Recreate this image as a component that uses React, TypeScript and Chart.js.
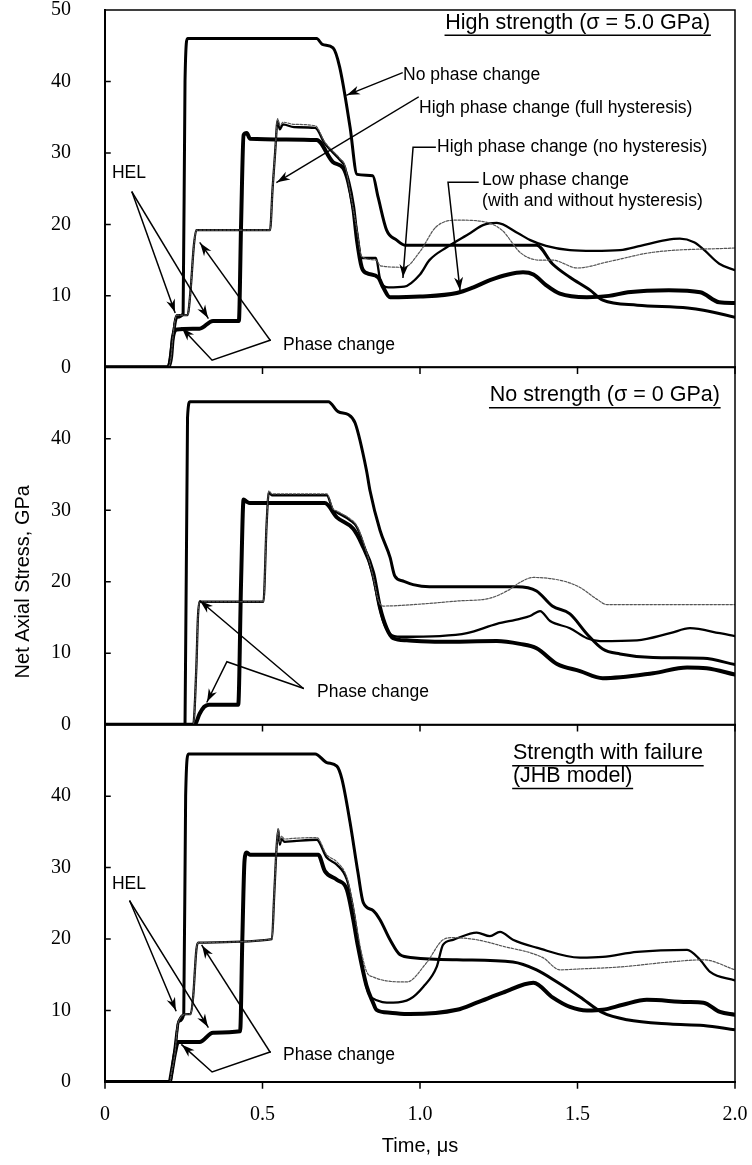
import React, { useEffect, useRef } from 'react';
import { Chart, registerables } from 'chart.js';

Chart.register(...registerables);

const SANS = '"Liberation Sans", Arial, sans-serif';
const SERIF = '"Liberation Serif", "Times New Roman", serif';

// ---------- axes ----------
const X_TICKS = [0, 0.5, 1.0, 1.5, 2.0];
const X_TICK_LABELS = ['0', '0.5', '1.0', '1.5', '2.0'];
const Y_TICKS = [0, 10, 20, 30, 40, 50];

const SERIES_NAMES = [
  'No phase change',
  'High phase change (full hysteresis)',
  'High phase change (no hysteresis)',
  'Low phase change (with and without hysteresis)',
];

// ---------- top panel: High strength (5.0 GPa) ----------
const topNoPhaseT = [0, 0.2, 0.215, 0.228, 0.248, 0.254, 0.262, 0.672, 0.69, 0.724, 0.745, 0.778, 0.8, 0.85, 0.867, 0.894, 0.926, 0.952, 1.37, 1.42, 1.476, 1.54, 1.58, 1.69, 1.85, 1.9, 2.0];
const topNoPhaseV = [0, 0, 4, 7, 7.5, 40, 46, 46, 45.2, 44.7, 42, 33.6, 27, 26.8, 23.8, 19.2, 17.8, 17.1, 17.1, 14.5, 12.6, 10.8, 9.4, 8.7, 8.3, 8.0, 7.0];

const topFullT = [0, 0.2, 0.21, 0.215, 0.222, 0.228, 0.262, 0.272, 0.282, 0.29, 0.524, 0.532, 0.54, 0.548, 0.555, 0.565, 0.6, 0.667, 0.698, 0.746, 0.762, 0.778, 0.8, 0.815, 0.86, 0.875, 0.9, 0.95, 1.0, 1.03, 1.085, 1.16, 1.2, 1.244, 1.31, 1.35, 1.4, 1.476, 1.55, 1.635, 1.7, 1.78, 1.825, 1.87, 1.9, 1.95, 2.0];
const topFullV = [0, 0, 1.5, 4, 6.5, 7.3, 7.3, 11, 17, 19.2, 19.2, 25, 30, 34.5, 33.3, 34, 33.6, 33.5, 31.3, 29, 28, 24.4, 19, 15.3, 15.3, 12, 11.2, 11.3, 13, 15, 16.8, 18.8, 19.9, 20.2, 18.8, 17.8, 17, 16.4, 16.3, 16.4, 17, 17.8, 18.0, 17.5, 16.5, 14.5, 13.6];

const topNoHystT = [0, 0.2, 0.21, 0.215, 0.222, 0.228, 0.262, 0.272, 0.282, 0.29, 0.524, 0.532, 0.54, 0.548, 0.555, 0.565, 0.6, 0.667, 0.698, 0.746, 0.762, 0.778, 0.8, 0.815, 0.86, 0.875, 0.95, 1.0, 1.05, 1.117, 1.2, 1.26, 1.32, 1.38, 1.42, 1.5, 1.6, 1.74, 2.0];
const topNoHystV = [0, 0, 1.5, 4, 6.5, 7.3, 7.3, 11, 17, 19.2, 19.2, 25, 30, 34.8, 33.8, 34.3, 34, 33.8, 31.5, 29.2, 28.2, 24.6, 19.2, 15.5, 15.0, 14.2, 14, 16.2, 19.6, 20.6, 20.4, 19.2, 16, 15.0, 15.0, 13.9, 14.8, 16.1, 16.7];

const topLowT = [0, 0.2, 0.21, 0.215, 0.228, 0.3, 0.343, 0.425, 0.432, 0.44, 0.45, 0.46, 0.672, 0.724, 0.756, 0.772, 0.788, 0.8, 0.815, 0.83, 0.867, 0.883, 0.905, 1.0, 1.117, 1.17, 1.222, 1.28, 1.327, 1.36, 1.4, 1.444, 1.53, 1.6, 1.66, 1.79, 1.89, 1.95, 2.0];
const topLowV = [0, 0, 1.5, 4, 5.3, 5.4, 6.5, 6.5, 20, 32.5, 32.8, 32, 31.8, 28.7, 27.9, 26, 22.4, 17.8, 14, 13.2, 12.6, 11.2, 9.8, 9.9, 10.4, 11.2, 12.2, 13, 13.3, 13, 11.5, 10.3, 9.8, 10.0, 10.5, 10.8, 10.5, 9.1, 9.0];

// ---------- middle panel: No strength ----------
const midNoPhaseT = [0, 0.254, 0.262, 0.27, 0.709, 0.74, 0.772, 0.794, 0.83, 0.841, 0.873, 0.905, 0.92, 0.946, 0.978, 1.03, 1.307, 1.37, 1.42, 1.476, 1.53, 1.58, 1.635, 1.74, 1.9, 2.0];
const midNoPhaseV = [0, 0, 43, 45.2, 45.2, 43.8, 43.4, 42.2, 35.6, 32.8, 27.2, 23.4, 20.8, 20.1, 19.6, 19.3, 19.3, 18.7, 16.6, 15.5, 12.7, 10.6, 9.9, 9.4, 9.3, 8.4];

const midFullT = [0, 0.28, 0.29, 0.295, 0.3, 0.503, 0.513, 0.52, 0.53, 0.704, 0.724, 0.736, 0.778, 0.8, 0.83, 0.851, 0.867, 0.883, 0.905, 0.937, 1.063, 1.149, 1.244, 1.317, 1.349, 1.381, 1.413, 1.476, 1.53, 1.571, 1.689, 1.794, 1.857, 1.952, 2.0];
const midFullV = [0, 0, 8, 15, 17.2, 17.2, 28, 32.5, 32.1, 32.1, 30, 29.7, 28.6, 27.6, 24, 20.6, 17.3, 14.5, 12.7, 12.3, 12.4, 12.8, 14.1, 14.8, 15.2, 15.9, 14.5, 13.5, 12.1, 11.7, 11.8, 12.8, 13.5, 12.8, 12.4];

const midNoHystT = [0, 0.28, 0.29, 0.295, 0.3, 0.503, 0.513, 0.52, 0.53, 0.704, 0.724, 0.736, 0.778, 0.8, 0.83, 0.851, 0.867, 0.883, 1.01, 1.117, 1.222, 1.28, 1.317, 1.36, 1.455, 1.508, 1.56, 1.594, 2.0];
const midNoHystV = [0, 0, 8, 15, 17.2, 17.2, 28, 32.7, 32.3, 32.3, 30.2, 29.9, 28.8, 27.8, 24.2, 20.8, 17.5, 16.6, 16.9, 17.3, 17.7, 18.8, 19.9, 20.6, 20.1, 19.2, 17.6, 16.8, 16.8];

const midLowT = [0, 0.285, 0.3, 0.315, 0.33, 0.423, 0.432, 0.44, 0.45, 0.46, 0.698, 0.736, 0.788, 0.815, 0.851, 0.873, 0.894, 0.915, 0.958, 1.063, 1.244, 1.317, 1.37, 1.435, 1.508, 1.58, 1.74, 1.848, 1.91, 2.0];
const midLowV = [0, 0, 1.5, 2.5, 2.8, 2.8, 20, 31.5, 31.2, 31.0, 31.0, 29, 27.4, 25.3, 21.3, 16.4, 13.5, 12.1, 11.8, 11.6, 11.7, 11.3, 10.7, 8.5, 7.5, 6.5, 7.2, 8.0, 7.9, 7.0];

// ---------- bottom panel: Strength with failure (JHB) ----------
const botNoPhaseT = [0, 0.205, 0.22, 0.235, 0.25, 0.256, 0.265, 0.667, 0.704, 0.736, 0.752, 0.778, 0.803, 0.82, 0.851, 0.873, 0.905, 0.937, 0.978, 1.117, 1.295, 1.37, 1.435, 1.508, 1.58, 1.657, 1.794, 1.9, 2.0];
const botNoPhaseV = [0, 0, 4, 8.5, 9.5, 40, 45.9, 45.9, 44.7, 44.2, 42.4, 36.3, 29.3, 25.1, 24, 22.7, 19.9, 17.8, 17.4, 17.1, 16.8, 15.7, 14.0, 11.9, 9.7, 8.7, 8.1, 7.9, 7.3];

const botFullT = [0, 0.205, 0.212, 0.222, 0.232, 0.26, 0.272, 0.28, 0.29, 0.296, 0.53, 0.537, 0.545, 0.55, 0.555, 0.56, 0.57, 0.6, 0.672, 0.704, 0.736, 0.768, 0.787, 0.81, 0.83, 0.846, 0.915, 0.968, 1.01, 1.053, 1.073, 1.105, 1.18, 1.222, 1.254, 1.295, 1.37, 1.508, 1.58, 1.689, 1.848, 1.889, 1.921, 2.0];
const botFullV = [0, 0, 1.5, 4, 8.3, 9.5, 9.5, 12, 18.5, 19.5, 20.0, 26, 33, 35.3, 33.2, 34, 33.6, 33.7, 33.9, 31.4, 30.4, 28.3, 24.5, 18, 13.3, 11.8, 11.1, 11.6, 13.3, 16.1, 19.2, 19.9, 20.9, 20.4, 21.0, 19.9, 18.8, 17.4, 17.5, 18.2, 18.5, 17.1, 15.4, 14.2];

const botNoHystT = [0, 0.205, 0.212, 0.222, 0.232, 0.26, 0.272, 0.28, 0.29, 0.296, 0.53, 0.537, 0.545, 0.55, 0.555, 0.56, 0.57, 0.6, 0.672, 0.704, 0.736, 0.768, 0.787, 0.81, 0.83, 0.851, 0.958, 1.021, 1.073, 1.105, 1.18, 1.263, 1.39, 1.444, 1.498, 1.635, 1.794, 1.9, 2.0];
const botNoHystV = [0, 0, 1.5, 4, 8.3, 9.5, 9.5, 12, 18.5, 19.5, 20.0, 26, 33, 35.5, 33.6, 34.4, 34, 34.1, 34.2, 31.8, 30.8, 28.6, 24.8, 19, 15.5, 14.7, 14.0, 16.7, 19.9, 20.2, 19.9, 19.0, 17.4, 15.7, 15.8, 16.1, 16.8, 17.1, 15.7];

const botLowT = [0, 0.205, 0.212, 0.222, 0.232, 0.3, 0.343, 0.429, 0.436, 0.443, 0.45, 0.46, 0.677, 0.698, 0.736, 0.768, 0.787, 0.803, 0.83, 0.851, 0.862, 0.905, 0.968, 1.117, 1.18, 1.263, 1.36, 1.422, 1.476, 1.53, 1.58, 1.644, 1.72, 1.848, 1.9, 1.952, 2.0];
const botLowV = [0, 0, 1.5, 4, 5.6, 5.6, 6.9, 7.1, 20, 31, 32.1, 31.8, 31.8, 29.5, 28.3, 26.9, 23, 19, 13.5, 11.1, 10.1, 9.7, 9.5, 10.1, 11.1, 12.5, 13.9, 11.8, 10.5, 10.0, 10.1, 10.8, 11.5, 11.2, 11.1, 9.8, 9.4];

// ---------- annotations (data coordinates: time, stress) ----------
const TOP_NOTES = [
  { text: 'High strength (σ = 5.0 GPa)', t: 1.921, v: 48.2, align: 'right', size: 21.5, underline: true },
  { text: 'No phase change', t: 0.946, v: 40.9 },
  { text: 'High phase change (full hysteresis)', t: 0.997, v: 36.3 },
  { text: 'High phase change (no hysteresis)', t: 1.054, v: 30.8 },
  { text: 'Low phase change', t: 1.197, v: 26.2 },
  { text: '(with and without hysteresis)', t: 1.197, v: 23.2 },
  { text: 'HEL', t: 0.022, v: 27.2 },
  { text: 'Phase change', t: 0.565, v: 3.1 },
];
const TOP_ARROWS = [
  [[0.943, 41.2], [0.768, 38.1]],
  [[0.994, 37.8], [0.546, 25.9]],
  [[1.048, 30.8], [0.978, 30.8], [0.946, 12.6]],
  [[1.184, 25.9], [1.089, 25.9], [1.127, 10.8]],
  [[0.086, 24.5], [0.222, 7.7]],
  [[0.086, 24.5], [0.327, 6.9]],
  [[0.524, 3.8], [0.34, 1.0], [0.244, 5.5]],
  [[0.524, 3.8], [0.302, 17.4]],
];
const MID_NOTES = [
  { text: 'No strength (σ = 0 GPa)', t: 1.952, v: 46.1, align: 'right', size: 21.5, underline: true },
  { text: 'Phase change', t: 0.673, v: 4.6 },
];
const MID_ARROWS = [
  [[0.629, 5.1], [0.302, 17.3]],
  [[0.629, 5.1], [0.387, 8.8], [0.324, 3.2]],
];
const BOT_NOTES = [
  { text: 'Strength with failure', t: 1.295, v: 46.0, size: 21.5, underline: true },
  { text: '(JHB model)', t: 1.295, v: 42.8, size: 21.5, underline: true },
  { text: 'HEL', t: 0.022, v: 27.7 },
  { text: 'Phase change', t: 0.565, v: 3.8 },
];
const BOT_ARROWS = [
  [[0.079, 25.3], [0.225, 10.0]],
  [[0.079, 25.3], [0.327, 7.7]],
  [[0.524, 4.2], [0.34, 1.4], [0.244, 5.2]],
  [[0.524, 4.2], [0.308, 19.1]],
];

const PANELS = [
  {
    axis: 'yTop', weight: 3, showMax: true, notes: TOP_NOTES, arrows: TOP_ARROWS,
    series: [[topNoPhaseT, topNoPhaseV], [topFullT, topFullV], [topNoHystT, topNoHystV], [topLowT, topLowV]],
  },
  {
    axis: 'yMid', weight: 2, showMax: false, notes: MID_NOTES, arrows: MID_ARROWS,
    series: [[midNoPhaseT, midNoPhaseV], [midFullT, midFullV], [midNoHystT, midNoHystV], [midLowT, midLowV]],
  },
  {
    axis: 'yBot', weight: 1, showMax: false, notes: BOT_NOTES, arrows: BOT_ARROWS,
    series: [[botNoPhaseT, botNoPhaseV], [botFullT, botFullV], [botNoHystT, botNoHystV], [botLowT, botLowV]],
  },
];

// line styles per series: no phase, full hysteresis, no hysteresis, low phase
const LINE_STYLES = [
  { width: 3, color: '#000', dash: [], order: 2 },
  { width: 2.3, color: '#000', dash: [], order: 1 },
  { width: 1.2, color: '#555', dash: [2.5, 1.5], order: 0 },
  { width: 4, color: '#000', dash: [], order: 3 },
];

function drawArrow(ctx, pts) {
  ctx.beginPath();
  ctx.moveTo(pts[0][0], pts[0][1]);
  for (let i = 1; i < pts.length; i++) ctx.lineTo(pts[i][0], pts[i][1]);
  ctx.stroke();
  const [x1, y1] = pts[pts.length - 2];
  const [x2, y2] = pts[pts.length - 1];
  const a = Math.atan2(y2 - y1, x2 - x1);
  const L = 13, W = 4.5;
  const c = Math.cos(a), s = Math.sin(a);
  ctx.beginPath();
  ctx.moveTo(x2, y2);
  ctx.lineTo(x2 - L * c + W * s, y2 - L * s - W * c);
  ctx.lineTo(x2 - L * 0.7 * c, y2 - L * 0.7 * s);
  ctx.lineTo(x2 - L * c - W * s, y2 - L * s + W * c);
  ctx.closePath();
  ctx.fill();
}

const framePlugin = {
  id: 'panelFrame',
  afterDraw(chart) {
    const ctx = chart.ctx;
    const xs = chart.scales.x;
    const xl = xs.left, xr = xs.right;
    ctx.save();
    ctx.strokeStyle = '#000';
    ctx.fillStyle = '#000';
    ctx.lineCap = 'square';
    for (const p of PANELS) {
      const ys = chart.scales[p.axis];
      const yt = ys.getPixelForValue(50);
      const yb = ys.getPixelForValue(0);
      ctx.lineWidth = 1.5;
      ctx.beginPath();
      ctx.moveTo(xl, yt); ctx.lineTo(xr, yt); ctx.lineTo(xr, yb);
      ctx.stroke();
      ctx.lineWidth = 2;
      ctx.beginPath();
      ctx.moveTo(xl, yt); ctx.lineTo(xl, yb); ctx.lineTo(xr, yb);
      ctx.stroke();
      ctx.lineWidth = 1.5;
      ctx.beginPath();
      for (const v of Y_TICKS) {
        if (v === 0 || v === 50) continue;
        const py = ys.getPixelForValue(v);
        ctx.moveTo(xl, py); ctx.lineTo(xl + 5, py);
      }
      for (const t of X_TICKS) {
        const px = xs.getPixelForValue(t);
        ctx.moveTo(px, yb); ctx.lineTo(px, yb + 6);
      }
      ctx.stroke();

      ctx.lineWidth = 1.5;
      for (const arr of p.arrows) {
        const pts = arr.map(([t, v]) => [xs.getPixelForValue(t), ys.getPixelForValue(v)]);
        drawArrow(ctx, pts);
      }
      for (const n of p.notes) {
        const size = n.size || 17.5;
        ctx.font = `${size}px ${SANS}`;
        ctx.textAlign = n.align || 'left';
        ctx.textBaseline = 'middle';
        const px = xs.getPixelForValue(n.t);
        const py = ys.getPixelForValue(n.v);
        ctx.fillText(n.text, px, py);
        if (n.underline) {
          const w = ctx.measureText(n.text).width;
          const x0 = n.align === 'right' ? px - w : px;
          ctx.lineWidth = 1.5;
          ctx.beginPath();
          ctx.moveTo(x0, py + size * 0.58);
          ctx.lineTo(x0 + w, py + size * 0.58);
          ctx.stroke();
        }
      }
    }
    const ym = chart.scales.yMid;
    ctx.translate(23, ym.getPixelForValue(20));
    ctx.rotate(-Math.PI / 2);
    ctx.font = `20px ${SANS}`;
    ctx.textAlign = 'center';
    ctx.textBaseline = 'middle';
    ctx.fillText('Net Axial Stress, GPa', 0, 0);
    ctx.restore();
  },
};

function yScale(weight, showMax) {
  return {
    type: 'linear',
    position: 'left',
    stack: 'panels',
    stackWeight: 1,
    weight,
    min: 0,
    max: 50,
    afterBuildTicks: (s) => { s.ticks = Y_TICKS.map((v) => ({ value: v })); },
    ticks: {
      color: '#000',
      padding: 26,
      font: { family: SERIF, size: 20, lineHeight: 1 },
      callback: (v) => (v === 50 && !showMax ? '' : String(v)),
    },
    grid: { display: false },
    border: { display: false },
    afterFit: (s) => {
      s.width = 105;
      s.paddingTop = 0;
      s.paddingBottom = 0;
    },
  };
}

export default function App() {
  const ref = useRef(null);
  useEffect(() => {
    document.body.style.margin = '0';
    const datasets = [];
    PANELS.forEach((p) => {
      p.series.forEach(([t, v], i) => {
        const st = LINE_STYLES[i];
        datasets.push({
          label: SERIES_NAMES[i],
          data: t.map((x, k) => ({ x, y: v[k] })),
          yAxisID: p.axis,
          xAxisID: 'x',
          borderColor: st.color,
          borderWidth: st.width,
          borderDash: st.dash,
          order: st.order,
          pointRadius: 0,
          fill: false,
          cubicInterpolationMode: 'monotone',
          borderJoinStyle: 'round',
          borderCapStyle: 'round',
        });
      });
    });
    const scales = {
      x: {
        type: 'linear',
        position: 'bottom',
        min: 0,
        max: 2,
        afterBuildTicks: (s) => { s.ticks = X_TICKS.map((v) => ({ value: v })); },
        ticks: {
          color: '#000',
          padding: 13,
          maxRotation: 0,
          autoSkip: false,
          font: { family: SERIF, size: 20 },
          callback: (v) => {
            const i = X_TICKS.indexOf(v);
            return i >= 0 ? X_TICK_LABELS[i] : '';
          },
        },
        grid: { display: false },
        border: { display: false },
        title: {
          display: true,
          text: 'Time, μs',
          color: '#000',
          font: { family: SANS, size: 20 },
          padding: { top: 0, bottom: 7 },
        },
        afterFit: (s) => {
          s.height = 83;
          s.paddingLeft = 0;
          s.paddingRight = 0;
        },
      },
    };
    PANELS.forEach((p) => { scales[p.axis] = yScale(p.weight, p.showMax); });

    const chart = new Chart(ref.current, {
      type: 'line',
      data: { datasets },
      options: {
        animation: false,
        responsive: false,
        maintainAspectRatio: false,
        layout: { padding: { top: 10, right: 17, left: 0, bottom: 0 } },
        plugins: { legend: { display: false }, tooltip: { enabled: false } },
        scales,
      },
      plugins: [framePlugin],
    });
    return () => chart.destroy();
  }, []);
  return (
    <div style={{ width: 752, height: 1165, background: '#fff' }}>
      <canvas ref={ref} width={752} height={1165} style={{ display: 'block', width: 752, height: 1165 }} />
    </div>
  );
}
